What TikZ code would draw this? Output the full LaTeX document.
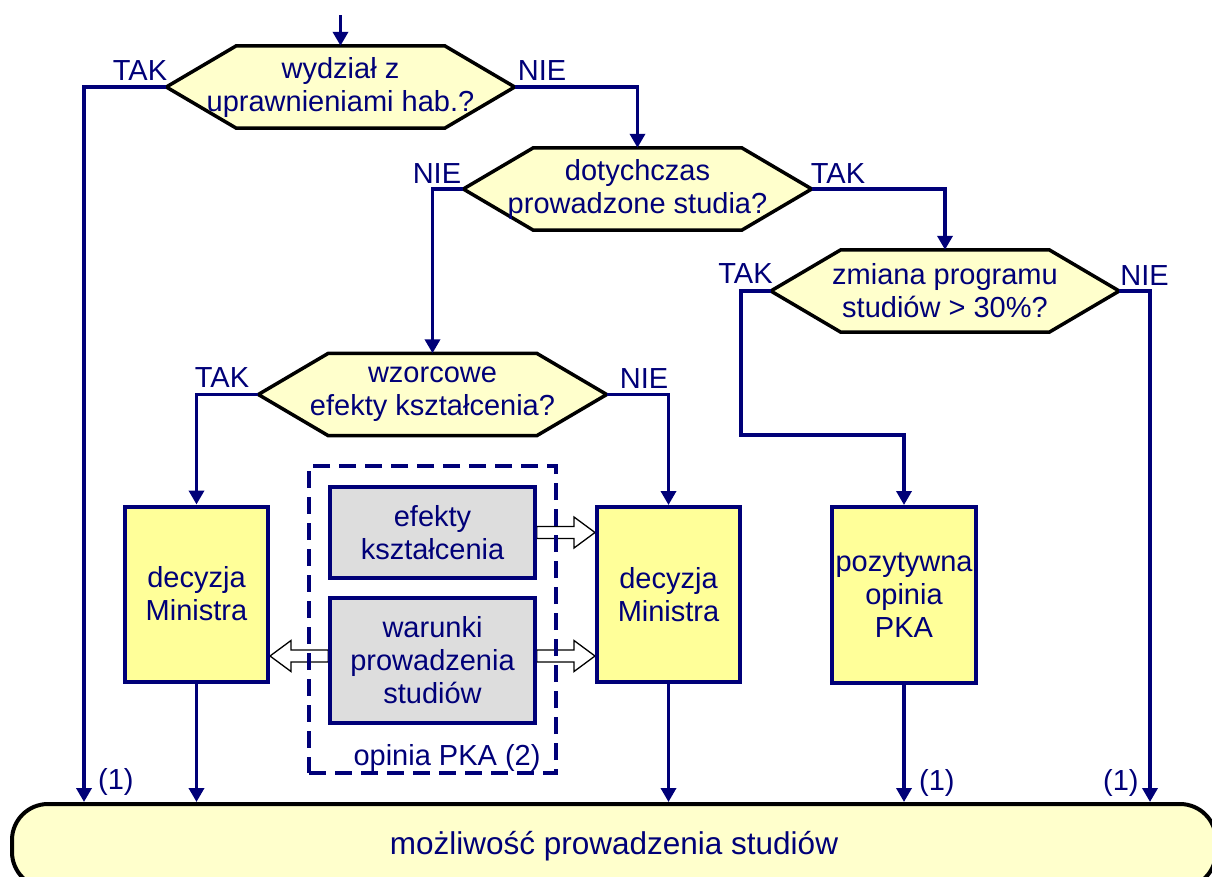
\documentclass[tikz,border=0pt]{standalone}
\usepackage{fontspec}
\setmainfont{Liberation Sans}
\usetikzlibrary{arrows.meta,calc,backgrounds}
\definecolor{navy}{RGB}{0,0,120}
\definecolor{hexfill}{HTML}{FFFFCC}
\definecolor{boxfill}{HTML}{FFFF99}
\definecolor{grayfill}{HTML}{DDDDDD}
\newcommand\hexpath[1]{\path[hexline] (#1.west) -- ([xshift=70pt]#1.north west) -- ([xshift=-70pt]#1.north east) -- (#1.east) -- ([xshift=-70pt]#1.south east) -- ([xshift=70pt]#1.south west) -- cycle;}
\newcommand\fatarrow[3]{\path[hollowarr] ($(#1)+(0,-6)$) -- ($(#2)+({-21*#3},-6)$) -- ($(#2)+({-21*#3},-15.5)$) -- (#2) -- ($(#2)+({-21*#3},15.5)$) -- ($(#2)+({-21*#3},6)$) -- ($(#1)+(0,6)$) -- cycle;}
\begin{document}
\begin{tikzpicture}[x=1pt,y=-1pt,
  every node/.style={font=\fontsize{29}{33}\selectfont, text=navy},
  hexnode/.style={rectangle, minimum width=348pt, minimum height=82pt, inner sep=0pt, align=center},
  hexline/.style={draw=black, line width=3.5pt, fill=hexfill, line join=miter},
  ybox/.style={draw=navy, line width=4pt, fill=boxfill, minimum width=143pt, minimum height=175pt, inner sep=0pt, align=center},
  gbox/.style={draw=navy, line width=3.5pt, fill=grayfill, minimum width=205pt, inner sep=0pt, align=center},
  conn/.style={draw=navy, line width=3.7pt},
  arr/.style={conn, -{Triangle[length=14pt,width=15pt]}},
  lab/.style={inner sep=0pt},
  hollowarr/.style={draw=black, line width=1.3pt, fill=white, line join=miter},
]
\useasboundingbox (0,0) rectangle (1212,876);

% decision nodes
\node[hexnode] (h1) at (340.5,87) {wydział z\\uprawnieniami hab.?};
\node[hexnode] (h2) at (637.5,189) {dotychczas\\prowadzone studia?};
\node[hexnode] (h3) at (945,291) {zmiana programu\\studiów > 30\%?};
\node[hexnode] (h4) at (432.5,394.5) {wzorcowe\\efekty kształcenia?};

% bottom
\node[draw=black, line width=4pt, fill=hexfill, rounded corners=36pt, minimum width=1204pt, minimum height=84pt, inner sep=0pt, font=\fontsize{31.5}{36}\selectfont] (bot) at (614,846) {możliwość prowadzenia studiów};

% boxes
\node[ybox] (b1) at (196.5,594) {decyzja\\Ministra};
\node[ybox] (b2) at (668.5,594.5) {decyzja\\Ministra};
\node[ybox, minimum width=144pt, minimum height=176pt] (b3) at (904,595) {pozytywna\\opinia\\PKA};
\node[gbox, minimum height=91pt] (g1) at (432.5,532.5) {efekty\\kształcenia};
\node[gbox, minimum height=125pt] (g2) at (432.5,660.5) {warunki\\prowadzenia\\studiów};

\begin{pgfonlayer}{background}
  \hexpath{h1}
  \hexpath{h2}
  \hexpath{h3}
  \hexpath{h4}
  \coordinate (e1) at (b2.west |- g1.east);
  \coordinate (s2) at ($(g2.east)+(0,-4.5)$);
  \coordinate (e2) at (b2.west |- s2);
  \coordinate (s3) at ($(g2.west)+(0,-4.5)$);
  \coordinate (e3) at (b1.east |- s3);
  \fatarrow{g1.east}{e1}{1}
  \fatarrow{s2}{e2}{1}
  \fatarrow{s3}{e3}{-1}
\end{pgfonlayer}

% dashed frame
\node[draw=navy, line width=3.5pt, dash pattern=on 17pt off 9pt, minimum width=247pt, minimum height=307pt, inner sep=0pt] (pka) at (432.5,619.5) {};
\node[lab, anchor=base] (pkat) at (447,765) {opinia PKA (2)};

% connectors
\coordinate (start) at (340.5,15);
\coordinate (k1) at (741,435);
\draw[arr] (start) -- (h1.north);
\draw[arr] (h1.west) -| (84,0 |- bot.north);
\draw[arr] (h1.east) -| (h2.north);
\draw[arr] (h2.west) -| (h4.north);
\draw[arr] (h2.east) -| (h3.north);
\draw[arr] (h3.west) -| (k1) -| (b3.north);
\draw[arr] (h3.east) -| (1150,0 |- bot.north);
\draw[arr] (h4.west) -| (b1.north);
\draw[arr] (h4.east) -| (b2.north);
\draw[arr] (b1.south) -- (b1.south |- bot.north);
\draw[arr] (b2.south) -- (b2.south |- bot.north);
\draw[arr] (b3.south) -- (b3.south |- bot.north);

% labels
\node[lab, anchor=base east] (t1) at ([xshift=1pt,yshift=7pt]h1.west) {TAK};
\node[lab, anchor=base west] (n1) at ([xshift=3pt,yshift=7pt]h1.east) {NIE};
\node[lab, anchor=base east] (n2) at ([xshift=-2pt,yshift=6pt]h2.west) {NIE};
\node[lab, anchor=base west] (t2) at ([xshift=-1pt,yshift=6pt]h2.east) {TAK};
\node[lab, anchor=base east] (t3) at ([xshift=2pt,yshift=8pt]h3.west) {TAK};
\node[lab, anchor=base west] (n3) at ([xshift=1pt,yshift=6pt]h3.east) {NIE};
\node[lab, anchor=base east] (t4) at ([xshift=-9pt,yshift=7.5pt]h4.west) {TAK};
\node[lab, anchor=base west] (n4) at ([xshift=13pt,yshift=6.5pt]h4.east) {NIE};
\node[lab, anchor=base west] (o1) at (98,789) {(1)};
\node[lab, anchor=base west] (o2) at (919,790) {(1)};
\node[lab, anchor=base west] (o3) at (1103,790) {(1)};
\end{tikzpicture}
\end{document}
